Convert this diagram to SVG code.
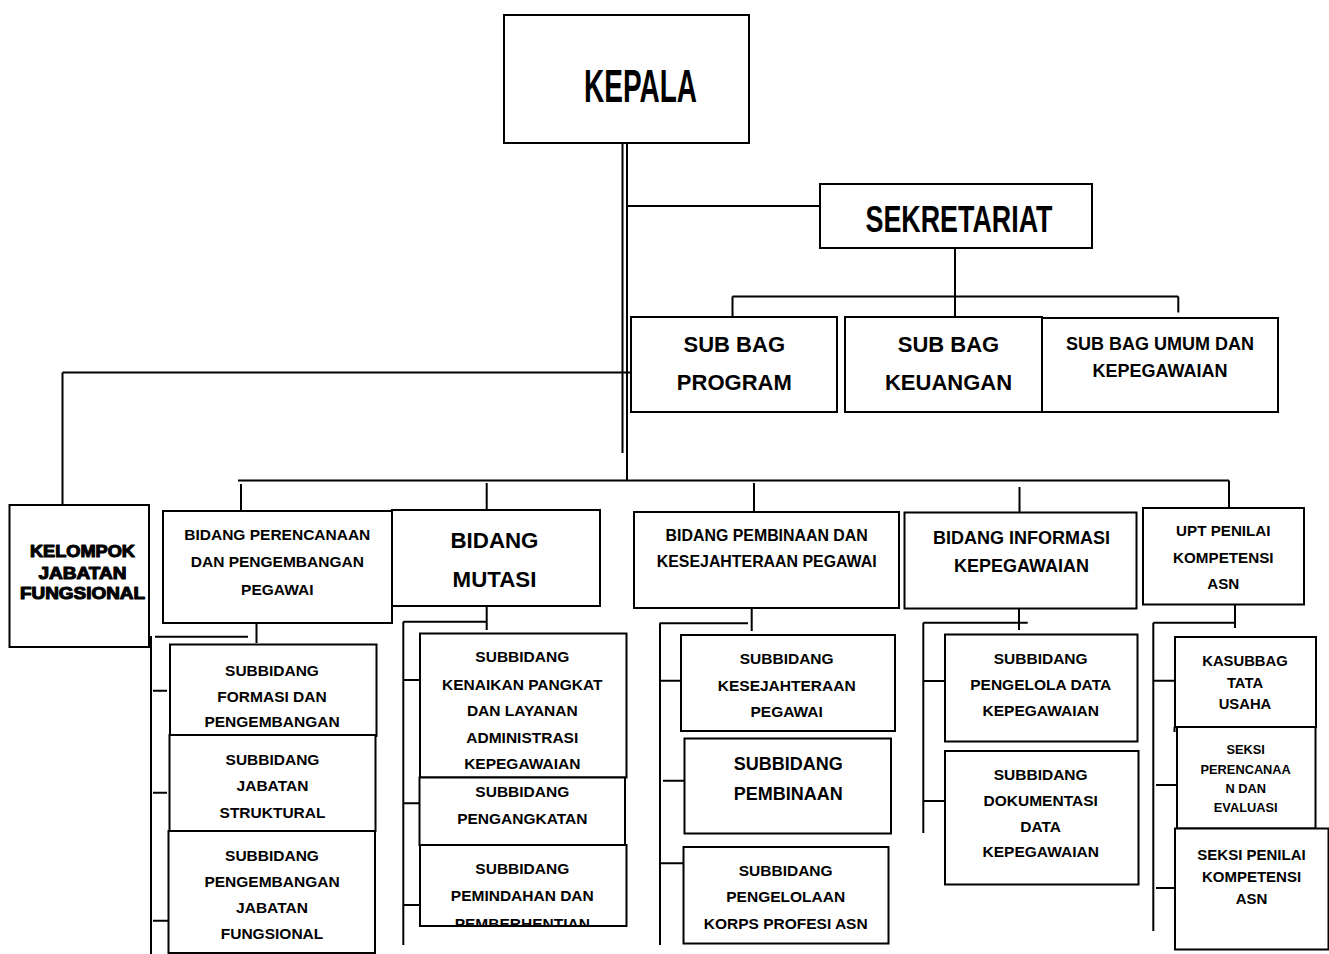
<svg xmlns="http://www.w3.org/2000/svg" width="1329" height="954" viewBox="0 0 1329 954">
<style>
.box{fill:#fff;stroke:#000;stroke-width:2}
.ln{stroke:#000;stroke-width:2;fill:none}
.t{font-family:"Liberation Sans",Arial,sans-serif;font-weight:bold;text-anchor:middle;fill:#000}
.cond{font-family:"Liberation Sans Narrow","Liberation Sans",Arial,sans-serif;font-weight:bold;text-anchor:middle;fill:#000}
.heavy{font-family:"Liberation Sans",Arial,sans-serif;font-weight:bold;text-anchor:middle;fill:#000;stroke:#000;stroke-width:1.1;stroke-linejoin:round}
.s155{font-size:15.5px}
</style>
<defs>
<clipPath id="clipM3"><rect x="420" y="845" width="207" height="80"/></clipPath>
</defs>
<rect width="1329" height="954" fill="#fff"/>
<g id="connectors">
<path class="ln" d="M622.5 143V453M627 143V480M627 206H828M955 240V317M732.5 296.5H1178.3M732.5 296.5V317M1178.3 296.5V312.5M62.5 372.5H631M62.5 372.5V526M238 480.5H1229M241 484V511M486.7 483V512M754 483V512M1019.5 487V515M1229 480.5V508"/>
<path class="ln" d="M256.5 613V643M155 636.7H248M151 636V954M153 690.7H167M153 792.7H167M153 920.7H176"/>
<path class="ln" d="M486.7 600V630M403.3 621.7H486.7M403.3 621.7V945M403.3 680H420M403.3 803.3H419M403.3 905H420"/>
<path class="ln" d="M751.7 599V631M659.5 623.3H748M660 623.3V945M660 680.7H681M663 780.7H684M660 863.3H683"/>
<path class="ln" d="M1019 600V630M923.3 622.7H1027.7M923.3 622.7V833M923.3 681H945M923.3 801H944"/>
<path class="ln" d="M1235 597V628M1153.3 622.7H1235M1153.3 622.7V931M1153.3 680.7H1175M1156 785H1177M1156 888H1175M1174.5 727V732"/>
</g>
<g id="kepala">
<rect class="box" x="504" y="15" width="245" height="128"/>
<text class="cond" x="640.5" y="101.8" font-size="46" textLength="113" lengthAdjust="spacingAndGlyphs">KEPALA</text>
</g>
<g id="sekretariat">
<rect class="box" x="820" y="184" width="272" height="64"/>
<text class="cond" x="959" y="231.5" font-size="37.7" textLength="187" lengthAdjust="spacingAndGlyphs">SEKRETARIAT</text>
</g>
<g id="subbag-program">
<rect class="box" x="631" y="317" width="206" height="95"/>
<text class="t" x="734.3" y="351.9" font-size="22">SUB BAG</text>
<text class="t" x="734.3" y="389.6" font-size="22">PROGRAM</text>
</g>
<g id="subbag-keuangan">
<rect class="box" x="845" y="317" width="197" height="95"/>
<text class="t" x="948.5" y="351.9" font-size="22">SUB BAG</text>
<text class="t" x="948.5" y="389.6" font-size="22">KEUANGAN</text>
</g>
<g id="subbag-umum">
<rect class="box" x="1042" y="318" width="236" height="94"/>
<text class="t" x="1160" y="349.7" font-size="18">SUB BAG UMUM DAN</text>
<text class="t" x="1160" y="377.4" font-size="18">KEPEGAWAIAN</text>
</g>
<g id="kelompok">
<rect class="box" x="9.5" y="505" width="139.5" height="142"/>
<text class="heavy" x="82.5" y="557" font-size="17" textLength="105" lengthAdjust="spacingAndGlyphs">KELOMPOK</text>
<text class="heavy" x="82.5" y="578.8" font-size="17" textLength="88" lengthAdjust="spacingAndGlyphs">JABATAN</text>
<text class="heavy" x="82.5" y="598.8" font-size="17" textLength="125" lengthAdjust="spacingAndGlyphs">FUNGSIONAL</text>
</g>
<g id="bidang-perencanaan">
<rect class="box" x="163" y="511" width="229" height="112"/>
<text class="t s155" x="277.3" y="539.5">BIDANG PERENCANAAN</text>
<text class="t s155" x="277.3" y="566.5">DAN PENGEMBANGAN</text>
<text class="t s155" x="277.3" y="594.8">PEGAWAI</text>
</g>
<g id="bidang-mutasi">
<rect class="box" x="392" y="510" width="208" height="96"/>
<text class="t" x="494.5" y="548" font-size="22.3">BIDANG</text>
<text class="t" x="494.5" y="587" font-size="22.3">MUTASI</text>
</g>
<g id="bidang-pembinaan">
<rect class="box" x="634" y="512" width="265" height="96"/>
<text class="t" x="766.7" y="540.7" font-size="15.9">BIDANG PEMBINAAN DAN</text>
<text class="t" x="766.7" y="567.4" font-size="15.9">KESEJAHTERAAN PEGAWAI</text>
</g>
<g id="bidang-informasi">
<rect class="box" x="904.5" y="512.5" width="232" height="96"/>
<text class="t" x="1021.5" y="543.7" font-size="18">BIDANG INFORMASI</text>
<text class="t" x="1021.5" y="572.4" font-size="18">KEPEGAWAIAN</text>
</g>
<g id="upt">
<rect class="box" x="1143" y="508" width="161" height="96.5"/>
<text class="t" x="1223.3" y="536.4" font-size="15.2">UPT PENILAI</text>
<text class="t" x="1223.3" y="562.7" font-size="15.2">KOMPETENSI</text>
<text class="t" x="1223.3" y="588.7" font-size="15.2">ASN</text>
</g>
<g id="sub-formasi">
<rect class="box" x="170" y="644.5" width="206.5" height="91.5"/>
<text class="t s155" x="272" y="675.5">SUBBIDANG</text>
<text class="t s155" x="272" y="701.5">FORMASI DAN</text>
<text class="t s155" x="272" y="727.2">PENGEMBANGAN</text>
</g>
<g id="sub-struktural">
<rect class="box" x="169.5" y="735" width="206" height="96"/>
<text class="t s155" x="272.5" y="764.8">SUBBIDANG</text>
<text class="t s155" x="272.5" y="791.2">JABATAN</text>
<text class="t s155" x="272.5" y="817.8">STRUKTURAL</text>
</g>
<g id="sub-fungsional">
<rect class="box" x="168.5" y="831" width="206.5" height="122"/>
<text class="t s155" x="272" y="860.5">SUBBIDANG</text>
<text class="t s155" x="272" y="886.5">PENGEMBANGAN</text>
<text class="t s155" x="272" y="912.8">JABATAN</text>
<text class="t s155" x="272" y="938.8">FUNGSIONAL</text>
</g>
<g id="sub-kenaikan">
<rect class="box" x="420" y="633.5" width="206.5" height="144"/>
<text class="t s155" x="522.3" y="662.2">SUBBIDANG</text>
<text class="t s155" x="522.3" y="689.5">KENAIKAN PANGKAT</text>
<text class="t s155" x="522.3" y="716.2">DAN LAYANAN</text>
<text class="t s155" x="522.3" y="742.8">ADMINISTRASI</text>
<text class="t s155" x="522.3" y="768.8">KEPEGAWAIAN</text>
</g>
<g id="sub-pengangkatan">
<rect class="box" x="419.5" y="777.5" width="205.5" height="67.5"/>
<text class="t s155" x="522.3" y="797.2">SUBBIDANG</text>
<text class="t s155" x="522.3" y="823.8">PENGANGKATAN</text>
</g>
<g id="sub-pemindahan">
<rect class="box" x="420" y="845" width="206.5" height="81"/>
<g clip-path="url(#clipM3)">
<text class="t s155" x="522.3" y="873.8">SUBBIDANG</text>
<text class="t s155" x="522.3" y="900.5">PEMINDAHAN DAN</text>
<text class="t s155" x="522.3" y="928.5">PEMBERHENTIAN</text>
</g>
</g>
<g id="sub-kesejahteraan">
<rect class="box" x="681" y="635" width="214" height="96"/>
<text class="t s155" x="786.7" y="663.8">SUBBIDANG</text>
<text class="t s155" x="786.7" y="690.5">KESEJAHTERAAN</text>
<text class="t s155" x="786.7" y="717.2">PEGAWAI</text>
</g>
<g id="sub-pembinaan">
<rect class="box" x="684.5" y="738.5" width="206.5" height="95" stroke-width="2.5"/>
<text class="t" x="788.3" y="769.7" font-size="18">SUBBIDANG</text>
<text class="t" x="788.3" y="799.7" font-size="18">PEMBINAAN</text>
</g>
<g id="sub-korps">
<rect class="box" x="683.5" y="847" width="205" height="96.5" stroke-width="2.5"/>
<text class="t s155" x="785.7" y="875.5">SUBBIDANG</text>
<text class="t s155" x="785.7" y="902.2">PENGELOLAAN</text>
<text class="t s155" x="785.7" y="928.8">KORPS PROFESI ASN</text>
</g>
<g id="sub-pengelola-data">
<rect class="box" x="945" y="634.5" width="192.5" height="107"/>
<text class="t s155" x="1040.7" y="663.8">SUBBIDANG</text>
<text class="t s155" x="1040.7" y="689.5">PENGELOLA DATA</text>
<text class="t s155" x="1040.7" y="715.5">KEPEGAWAIAN</text>
</g>
<g id="sub-dokumentasi">
<rect class="box" x="945" y="751" width="193.5" height="133.5"/>
<text class="t s155" x="1040.7" y="779.5">SUBBIDANG</text>
<text class="t s155" x="1040.7" y="805.5">DOKUMENTASI</text>
<text class="t s155" x="1040.7" y="832.2">DATA</text>
<text class="t s155" x="1040.7" y="857.2">KEPEGAWAIAN</text>
</g>
<g id="kasubbag">
<rect class="box" x="1175" y="637" width="141" height="90"/>
<text class="t" x="1245" y="666" font-size="14.8">KASUBBAG</text>
<text class="t" x="1245" y="687.6" font-size="14.8">TATA</text>
<text class="t" x="1245" y="709.3" font-size="14.8">USAHA</text>
</g>
<g id="seksi-perencanaan">
<rect class="box" x="1177" y="727" width="138.5" height="101.5"/>
<text class="t" x="1245.7" y="753.9" font-size="12.8">SEKSI</text>
<text class="t" x="1245.7" y="773.9" font-size="12.8">PERENCANAA</text>
<text class="t" x="1245.7" y="792.9" font-size="12.8">N DAN</text>
<text class="t" x="1245.7" y="812.3" font-size="12.8">EVALUASI</text>
</g>
<g id="seksi-penilai">
<rect class="box" x="1175" y="828.5" width="153.5" height="121"/>
<text class="t" x="1251.5" y="860.4" font-size="15">SEKSI PENILAI</text>
<text class="t" x="1251.5" y="882.1" font-size="15">KOMPETENSI</text>
<text class="t" x="1251.5" y="903.7" font-size="15">ASN</text>
</g>
</svg>
